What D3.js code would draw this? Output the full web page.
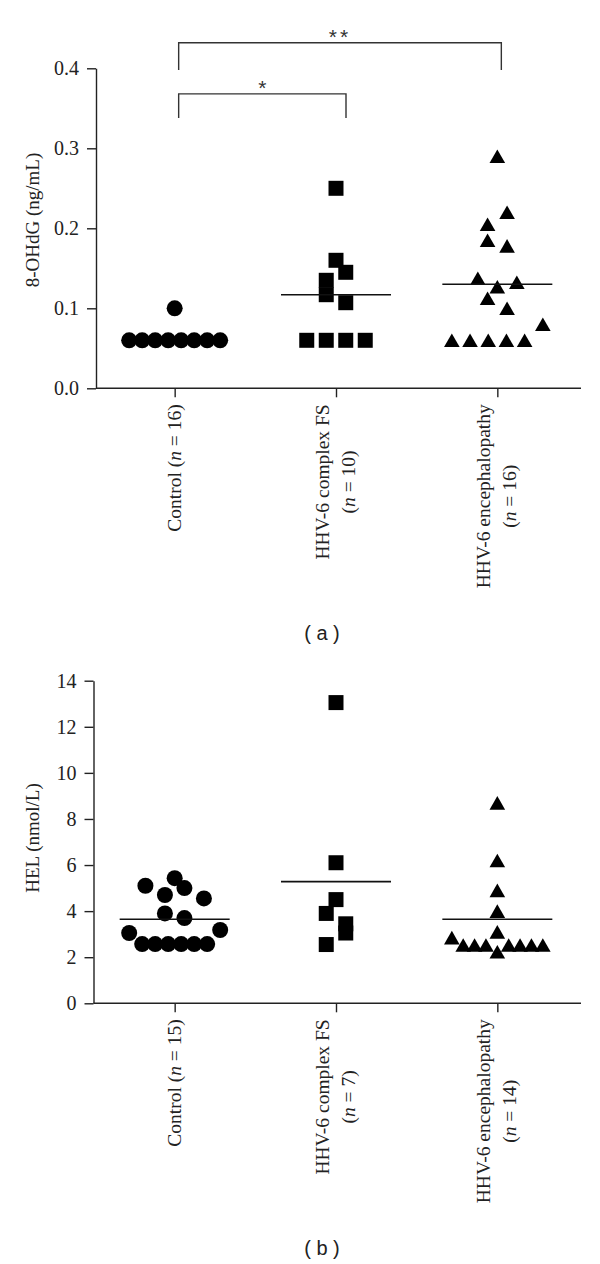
<!DOCTYPE html>
<html>
<head>
<meta charset="utf-8">
<script src="https://cdn.jsdelivr.net/npm/d3@7"></script>
<style>
  body { margin: 0; background: #fff; }
  svg { display: block; }
</style>
</head>
<body>
<div id="chart"></div>
<script>
const groups = ["Control", "HHV-6 complex FS", "HHV-6 encephalopathy"];

// (a) 8-OHdG (ng/mL), values listed left-to-right within each row of the dot plot
const ohdgN = [16, 10, 16];
const ohdgControl = [0.06, 0.06, 0.06, 0.06, 0.06, 0.06, 0.06, 0.06, 0.1];
const ohdgComplex = [0.06, 0.06, 0.06, 0.06, 0.117, 0.107, 0.135, 0.145, 0.16, 0.25];
const ohdgEnceph = [0.06, 0.06, 0.06, 0.06, 0.06, 0.08, 0.1125, 0.1, 0.1375, 0.127, 0.1325, 0.185, 0.178, 0.205, 0.22, 0.29];
const ohdgMeans = [null, 0.117, 0.13];
const ohdgTicks = [0, 0.1, 0.2, 0.3, 0.4];
const ohdgBrackets = [
  { from: 0, to: 2, level: 0.432, drop: 0.034, label: "**" },
  { from: 0, to: 1, level: 0.368, drop: 0.03, label: "*" },
];

// (b) HEL (nmol/L)
const helN = [15, 7, 14];
const helControl = [3.05, 2.57, 2.57, 2.57, 2.57, 2.57, 2.57, 3.18, 3.9, 3.7, 5.1, 4.7, 5.0, 4.55, 5.43];
const helComplex = [2.55, 3.05, 3.9, 3.45, 4.5, 6.1, 13.05];
const helEnceph = [2.85, 2.53, 2.53, 2.53, 2.24, 2.53, 2.53, 2.53, 2.53, 3.1, 4.0, 4.9, 6.2, 8.7];
const helMeans = [3.65, 5.28, 3.65];
const helTicks = [0, 2, 4, 6, 8, 10, 12, 14];

const serif = "'Liberation Serif', 'Times New Roman', serif";
const sans = "'Liberation Sans', Arial, sans-serif";
const ink = "#222";

const svg = d3
  .select("#chart")
  .append("svg")
  .attr("width", 600)
  .attr("height", 1264);

const x = d3.scalePoint().domain(groups).range([94, 578]).padding(0.5);

drawPanel({
  series: [ohdgControl, ohdgComplex, ohdgEnceph],
  means: ohdgMeans,
  ns: ohdgN,
  ticks: ohdgTicks,
  format: d3.format(".1f"),
  y: d3.scaleLinear().domain([0, 0.4]).range([388.3, 68.3]),
  axisX: 96,
  title: "8-OHdG (ng/mL)",
  titleY: 220,
  brackets: ohdgBrackets,
  letter: "( a )",
  letterY: 640,
});

drawPanel({
  series: [helControl, helComplex, helEnceph],
  means: helMeans,
  ns: helN,
  ticks: helTicks,
  format: d3.format("d"),
  y: d3.scaleLinear().domain([0, 14]).range([1003.3, 680.7]),
  axisX: 93.5,
  title: "HEL (nmol/L)",
  titleY: 838,
  brackets: [],
  letter: "( b )",
  letterY: 1255,
});

// spread points that share a row (within rowGap px) side by side
function dodge(values, y, cx) {
  const rowGap = 18;
  const maxStep = 19.5;
  const maxSpan = 91;
  const pts = values.map((v, i) => ({ v, i, py: y(v) }));
  const sorted = pts.slice().sort((a, b) => b.py - a.py || a.i - b.i);
  const rows = [];
  let row = null;
  sorted.forEach((p) => {
    if (!row || row.start - p.py > rowGap) {
      row = { start: p.py, pts: [] };
      rows.push(row);
    }
    row.pts.push(p);
  });
  rows.forEach((r) => {
    r.pts.sort((a, b) => a.i - b.i);
    const n = r.pts.length;
    const step = n > 1 ? Math.min(maxStep, maxSpan / (n - 1)) : 0;
    r.pts.forEach((p, k) => (p.px = cx + (k - (n - 1) / 2) * step));
  });
  return pts;
}

function markerPath(shape) {
  if (shape === 0) return d3.symbol(d3.symbolCircle, Math.PI * 8 * 8)();
  if (shape === 1) return "M-7.5,-7.5H7.5V7.5H-7.5Z";
  return "M0,-6.8L7.8,6.8L-7.8,6.8Z";
}

function drawPanel(p) {
  const y = p.y;
  const g = svg.append("g");
  const x0 = p.axisX;
  const yBase = y(0);

  // y axis
  const yAxis = g
    .append("g")
    .attr("transform", `translate(${x0},0)`)
    .call(
      d3.axisLeft(y).tickValues(p.ticks).tickFormat(p.format).tickSize(9).tickPadding(8).tickSizeOuter(0)
    );
  yAxis.select(".domain").attr("stroke", ink).attr("stroke-width", 1.4);
  yAxis.selectAll(".tick line").attr("stroke", ink).attr("stroke-width", 1.4);
  yAxis
    .selectAll(".tick text")
    .attr("font-family", serif)
    .attr("font-size", 20)
    .attr("fill", ink);

  // x axis
  const xAxis = g
    .append("g")
    .attr("transform", `translate(0,${yBase})`)
    .call(d3.axisBottom(x).tickSize(9).tickSizeOuter(0).tickFormat(""));
  xAxis.select(".domain").remove();
  xAxis.selectAll(".tick line").attr("stroke", ink).attr("stroke-width", 1.4);
  g.append("line")
    .attr("x1", x0)
    .attr("x2", 581)
    .attr("y1", yBase)
    .attr("y2", yBase)
    .attr("stroke", ink)
    .attr("stroke-width", 1.4);

  // category labels, rotated
  groups.forEach((name, i) => {
    const lines = i === 0 ? [[name + " (", ")"]] : [[name], ["(", ")"]];
    const offs = lines.length === 1 ? [6.5] : [-7, 19];
    const lab = g
      .append("g")
      .attr("transform", `translate(${x(name)},${yBase + 16}) rotate(-90)`);
    const texts = lines.map((parts, k) => {
      const t = lab
        .append("text")
        .attr("y", offs[k])
        .attr("font-family", serif)
        .attr("font-size", 19.5)
        .attr("fill", ink)
        .attr("text-anchor", "middle");
      t.append("tspan").text(parts[0]);
      if (parts.length > 1) {
        t.append("tspan").attr("font-style", "italic").text("n");
        t.append("tspan").text(` = ${p.ns[i]}` + parts[1]);
      }
      return t;
    });
    const maxW = d3.max(texts, (t) => t.node().getComputedTextLength());
    texts.forEach((t) => t.attr("x", -maxW / 2));
  });

  // y title
  g.append("text")
    .attr("transform", `translate(39,${p.titleY}) rotate(-90)`)
    .attr("text-anchor", "middle")
    .attr("font-family", serif)
    .attr("font-size", 19)
    .attr("fill", ink)
    .text(p.title);

  // points
  p.series.forEach((vals, i) => {
    const cx = x(groups[i]);
    const pts = dodge(vals, y, cx);
    g.append("g")
      .selectAll("path")
      .data(pts)
      .join("path")
      .attr("d", markerPath(i))
      .attr("transform", (d) => `translate(${d.px},${d.py})`)
      .attr("fill", "#000");
  });

  // mean lines
  g.append("g")
    .selectAll("line")
    .data(p.means.map((m, i) => ({ m, i })).filter((d) => d.m != null))
    .join("line")
    .attr("x1", (d) => x(groups[d.i]) - 55)
    .attr("x2", (d) => x(groups[d.i]) + 55)
    .attr("y1", (d) => y(d.m))
    .attr("y2", (d) => y(d.m))
    .attr("stroke", "#111")
    .attr("stroke-width", 1.6);

  // significance brackets
  p.brackets.forEach((b) => {
    const xa = x(groups[b.from]) + 4;
    const xb = x(groups[b.to]) + 4 + (b.to === 1 ? 6 : 0);
    const yl = y(b.level);
    const yd = y(b.level - b.drop);
    g.append("path")
      .attr("d", `M${xa},${yd}V${yl}H${xb}V${yd}`)
      .attr("fill", "none")
      .attr("stroke", "#333")
      .attr("stroke-width", 1.4);
    g.append("text")
      .attr("x", (xa + xb) / 2)
      .attr("y", yl + 1)
      .attr("text-anchor", "middle")
      .attr("font-family", sans)
      .attr("font-size", 21)
      .attr("letter-spacing", b.label.length > 1 ? 3 : 0)
      .attr("fill", "#333")
      .text(b.label);
  });

  // panel letter
  g.append("text")
    .attr("x", 322)
    .attr("y", p.letterY)
    .attr("text-anchor", "middle")
    .attr("font-family", sans)
    .attr("font-size", 20)
    .attr("fill", ink)
    .attr("xml:space", "preserve")
    .text(p.letter);
}
</script>
</body>
</html>
